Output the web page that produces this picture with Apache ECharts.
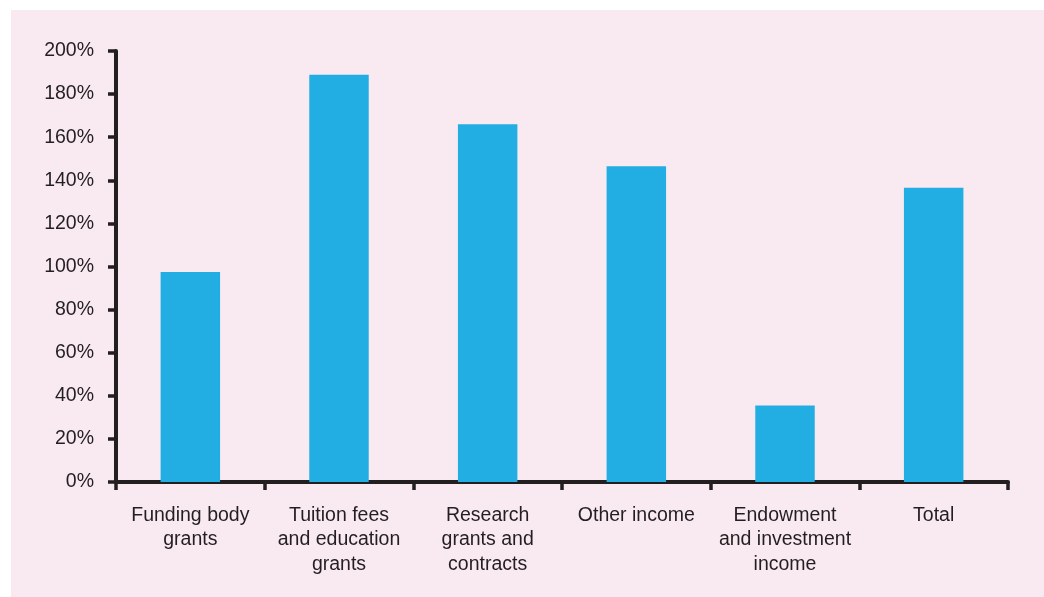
<!DOCTYPE html>
<html>
<head>
<meta charset="utf-8">
<script src="https://cdn.jsdelivr.net/npm/echarts@6/dist/echarts.min.js"></script>
<style>
  html, body { margin: 0; padding: 0; background: #ffffff; }
  #panel { position: absolute; left: 11px; top: 10px; width: 1033px; height: 587px; background: #f9eaf1; }
  #chart { position: absolute; left: 0; top: 0; width: 1044px; height: 597px; }
</style>
</head>
<body>
<div id="panel"></div>
<div id="chart"></div>
<script>
// Income growth by source, per cent
const categories = [
  'Funding body\ngrants',
  'Tuition fees\nand education\ngrants',
  'Research\ngrants and\ncontracts',
  'Other income',
  'Endowment\nand investment\nincome',
  'Total'
];
const growth = [97.5, 189, 166, 146.5, 35.5, 136.5];
const yTicks = [0, 20, 40, 60, 80, 100, 120, 140, 160, 180, 200];

const ink = '#231f20';
const chart = echarts.init(document.getElementById('chart'), null, { renderer: 'canvas' });
chart.setOption({
  backgroundColor: 'transparent',
  animation: false,
  grid: { left: 116, right: 36, top: 51, bottom: 115 },
  xAxis: {
    type: 'category',
    data: categories,
    boundaryGap: true,
    axisLine: { lineStyle: { color: ink, width: 4 } },
    axisTick: { show: true, length: 8, lineStyle: { color: ink, width: 3.5 }, alignWithLabel: false },
    axisLabel: {
      color: ink, fontFamily: 'Liberation Sans, Arial, sans-serif', fontSize: 19.5,
      lineHeight: 24.5, margin: 21, interval: 0
    }
  },
  yAxis: {
    type: 'value',
    min: yTicks[0],
    max: yTicks[yTicks.length - 1],
    interval: 20,
    splitLine: { show: false },
    axisLine: { show: true, lineStyle: { color: ink, width: 4 } },
    axisTick: { show: true, length: 8, lineStyle: { color: ink, width: 3.5 } },
    axisLabel: {
      color: ink, fontFamily: 'Liberation Sans, Arial, sans-serif', fontSize: 19.5,
      margin: 22, formatter: v => v + '%'
    }
  },
  series: [{
    type: 'bar',
    data: growth,
    barWidth: '40%',
    itemStyle: { color: '#22ade3' }
  }]
});
</script>
</body>
</html>
